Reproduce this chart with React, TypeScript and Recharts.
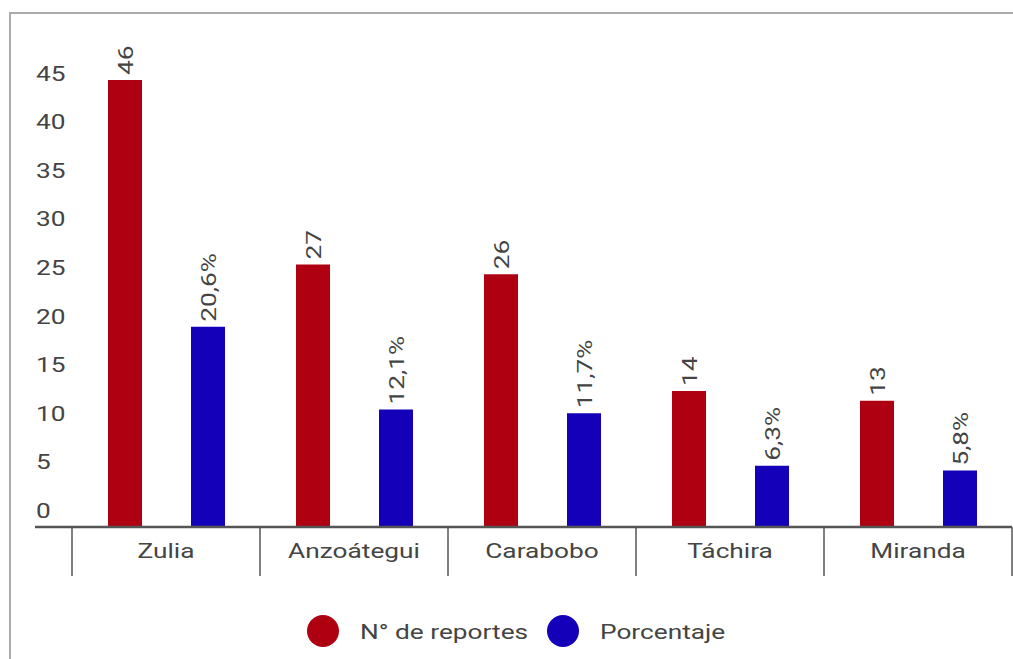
import React from 'react'
import { BarChart, Bar, XAxis, YAxis, Legend, LabelList } from 'recharts'

const STATES = ['Zulia', 'Anzoátegui', 'Carabobo', 'Táchira', 'Miranda']
const REPORTS = [46, 27, 26, 14, 13]
const PERCENT = [20.6, 12.1, 11.7, 6.3, 5.8]
const Y_TICKS = [0, 5, 10, 15, 20, 25, 30, 35, 40, 45]
const LEGEND = [
  { label: 'N° de reportes', color: '#AF0011' },
  { label: 'Porcentaje', color: '#1400B8' },
]

const RED = LEGEND[0].color
const BLUE = LEGEND[1].color
const TEXT = '#444444'
const AXIS = '#555555'
const FONT = 'Roboto, "Noto Sans", sans-serif'
// the source text is set noticeably wider than plain Roboto
const STRETCH = 1.25

const data = STATES.map((s, i) => ({ state: s, reportes: REPORTS[i], pct: PERCENT[i] }))

const fmtPct = (v: number) => v.toFixed(1).replace('.', ',') + '%'

function WideText({ x, y, rotate = 0, anchor = 'start', dy, children }: any) {
  return (
    <text
      transform={`translate(${x} ${y}) rotate(${rotate}) scale(${STRETCH} 1)`}
      dy={dy}
      textAnchor={anchor}
      fill={TEXT}
      fontSize={21}
      fontFamily={FONT}
    >
      {children}
    </text>
  )
}

function YTick({ y, payload }: any) {
  return (
    <g>
      {payload.value === 0 && <line x1={35} x2={72} y1={y} y2={y} stroke={AXIS} strokeWidth={2.5} />}
      <WideText x={36} y={y - 9}>{payload.value}</WideText>
    </g>
  )
}

function XTick({ x, y, payload, index }: any) {
  const half = payload.offset ?? 94
  return (
    <g>
      <line x1={x - half} x2={x - half} y1={y} y2={y + 49} stroke={AXIS} strokeWidth={1.5} />
      {index === STATES.length - 1 && (
        <line x1={x + half} x2={x + half} y1={y} y2={y + 49} stroke={AXIS} strokeWidth={1.5} />
      )}
      <WideText x={x} y={y + 31} anchor="middle">{payload.value}</WideText>
    </g>
  )
}

const valueLabel = (fmt: (v: number) => string) => (props: any) => {
  const { x, y, width, value } = props
  return (
    <WideText x={x + width / 2} y={y - 5} rotate={-90} dy="0.36em">
      {fmt(value)}
    </WideText>
  )
}

function LegendContent() {
  return (
    <svg width={430} height={40} style={{ display: 'block' }}>
      {LEGEND.map((it, i) => (
        <g key={it.label} transform={`translate(${i * 240} 0)`}>
          <circle cx={16} cy={20} r={16} fill={it.color} />
          <WideText x={53} y={20} dy="0.36em">{it.label}</WideText>
        </g>
      ))}
    </svg>
  )
}

export default function App() {
  return (
    <div style={{ position: 'fixed', left: 0, top: 0, width: 1013, height: 659, background: '#fff' }}>
      <div
        style={{
          position: 'absolute', left: 9, top: 12, right: 0, bottom: 0,
          borderLeft: '2px solid #aaaaaa', borderTop: '2px solid #aaaaaa',
        }}
      />
      <BarChart
        width={1013}
        height={659}
        data={data}
        margin={{ top: 41, right: 1, left: 0, bottom: 42 }}
        barSize={34}
        barGap={49}
      >
        <XAxis
          dataKey="state"
          height={50}
          tickSize={0}
          tickMargin={0}
          axisLine={{ stroke: AXIS, strokeWidth: 2.5 }}
          tickLine={false}
          tick={<XTick />}
          interval={0}
        />
        <YAxis
          width={72}
          domain={[0, 50]}
          ticks={Y_TICKS}
          axisLine={false}
          tickLine={false}
          tick={<YTick />}
          interval={0}
        />
        <Legend
          verticalAlign="bottom"
          content={<LegendContent />}
          wrapperStyle={{ top: 611, left: 307, width: 'auto' }}
        />
        <Bar dataKey="reportes" fill={RED} isAnimationActive={false}>
          <LabelList dataKey="reportes" content={valueLabel(v => String(v))} />
        </Bar>
        <Bar dataKey="pct" fill={BLUE} isAnimationActive={false}>
          <LabelList dataKey="pct" content={valueLabel(fmtPct)} />
        </Bar>
      </BarChart>
    </div>
  )
}
